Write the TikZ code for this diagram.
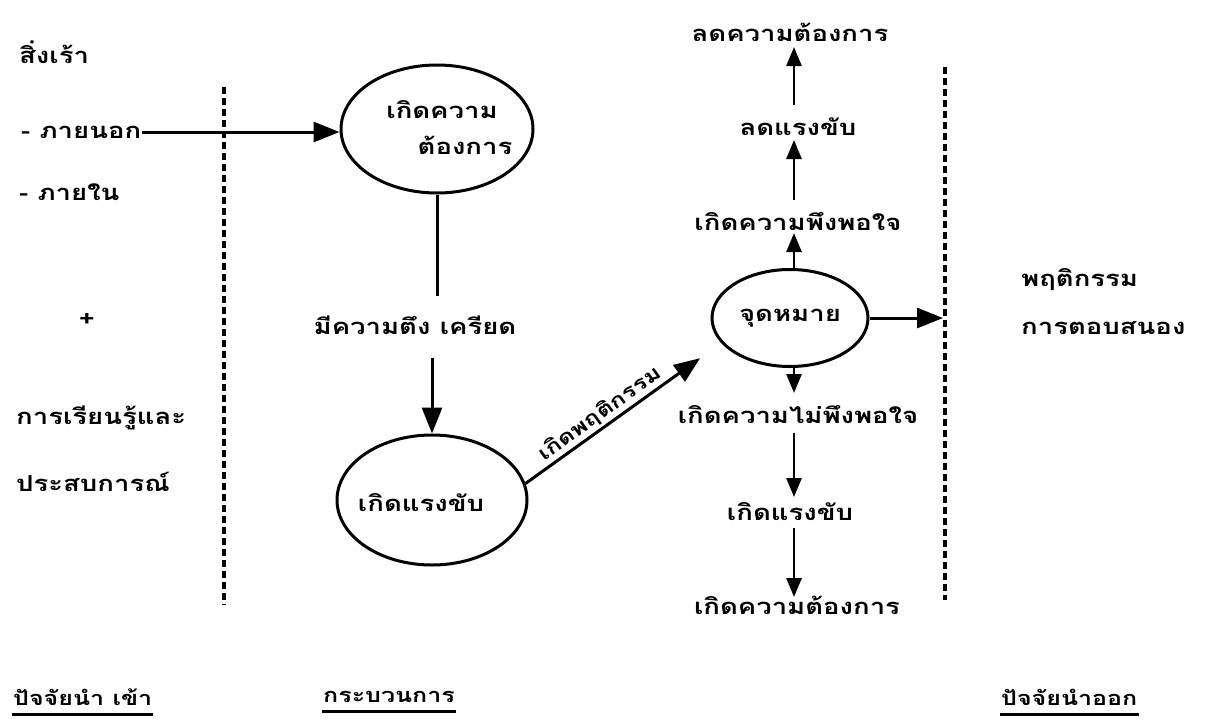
\documentclass[tikz,border=0pt]{standalone}
\usepackage{fontspec}
\newfontfamily\thai[Script=Thai,FakeStretch=1.25]{Loma}
\usetikzlibrary{arrows.meta,calc,shapes.geometric}
\begin{document}
\begin{tikzpicture}[x=1pt,y=-1pt,
  txt/.style={font=\thai\bfseries\fontsize{22}{26}\selectfont, inner sep=1pt},
  lbl/.style={font=\thai\bfseries\fontsize{20}{24}\selectfont, inner sep=1pt},
  small/.style={font=\thai\bfseries\fontsize{20}{23}\selectfont, inner sep=1pt},
  ell/.style={draw, ellipse, line width=3pt, inner sep=0pt},
  conn/.style={line width=3pt},
  arr/.style={line width=3pt, -{Triangle[length=26pt,width=20pt]}},
  sarr/.style={line width=2.8pt, -{Triangle[length=19pt,width=15pt]}},
  divider/.style={line width=3.2pt, dash pattern=on 7pt off 4pt},
  uline/.style={line width=3pt}]
\useasboundingbox (0,0) rectangle (1207,721);

% input side
\node[txt, anchor=west] (stim) at (18,52) {สิ่งเร้า};
\node[txt, anchor=west] (ext) at (20,132) {- ภายนอก};
\node[txt, anchor=west] (int) at (18,192) {- ภายใน};
\node[txt] (plus) at (87,320) {+};
\node[txt, anchor=west] (learn) at (15,418) {การเรียนรู้และ};
\node[txt, anchor=west] (exper) at (15,482) {ประสบการณ์};

% dividers
\coordinate (ldt) at (224,87);
\coordinate (ldb) at (224,605);
\coordinate (rdt) at (945,67);
\coordinate (rdb) at (945,600);
\draw[divider] (ldt) -- (ldb);
\draw[divider] (rdt) -- (rdb);

% process
\node[ell, minimum width=192pt, minimum height=128pt] (e1) at (437,129) {};
\node[txt] (e1a) at (442,110) {เกิดความ};
\node[txt] (e1b) at (465,145) {ต้องการ};
\node[txt] (tension) at (415,325) {มีความตึง เครียด};
\node[ell, minimum width=190pt, minimum height=130pt] (e2) at (432,500) {};
\node[txt] (e2t) at (421,503) {เกิดแรงขับ};
\node[ell, minimum width=156pt, minimum height=97pt, txt] (e3) at (790,318) {จุดหมาย};

% goal column
\node[txt] (redneed) at (790,32) {ลดความต้องการ};
\node[txt] (reddrive) at (798,127) {ลดแรงขับ};
\node[txt] (sat) at (798,222) {เกิดความพึงพอใจ};
\node[txt] (unsat) at (798,415) {เกิดความไม่พึงพอใจ};
\node[txt] (drive2) at (790,512) {เกิดแรงขับ};
\node[txt] (need2) at (797,605) {เกิดความต้องการ};

% output
\node[txt, anchor=west] (resp1) at (1020,280) {พฤติกรรม};
\node[txt, anchor=west] (resp2) at (1020,328) {การตอบสนอง};
\coordinate (rdarrow) at (943,318);

% bottom headings
\node[small, anchor=west] (hin) at (12,697) {ปัจจัยนำ เข้า};
\node[small, anchor=west] (hproc) at (322,697) {กระบวนการ};
\node[small, anchor=west] (hout) at (1000,697) {ปัจจัยนำออก};
\draw[uline] ([yshift=-8pt]hin.south west) -- ([yshift=-8pt]hin.south east);
\draw[uline] ([yshift=-8pt]hproc.south west) -- ([yshift=-8pt]hproc.south east);
\draw[uline] ([yshift=-8pt]hout.south west) -- ([yshift=-8pt]hout.south east);

% connectors
\draw[arr] (ext.east) -- (ext.east -| e1.west);
\draw[conn] (e1.south) -- ($(e1.south |- tension.north)+(0,-18)$);
\draw[arr] ($(e2.north |- tension.south)+(0,22)$) -- (e2.north);
\draw[arr, shorten >=26pt] (e2.10) -- node[pos=0.42, sloped, above, lbl, yshift=1pt] {เกิดพฤติกรรม} (e3.200);
\draw[arr] (e3.east) -- (rdarrow);

\draw[sarr] ([xshift=4pt]e3.north) -- (794,233);
\draw[sarr] (794,200) -- (794,140);
\draw[sarr] (794,105) -- (794,47);
\draw[sarr] ([xshift=4pt]e3.south) -- (794,393);
\draw[sarr] (794,433) -- (794,497);
\draw[sarr] (794,528) -- (794,597);
\end{tikzpicture}
\end{document}
